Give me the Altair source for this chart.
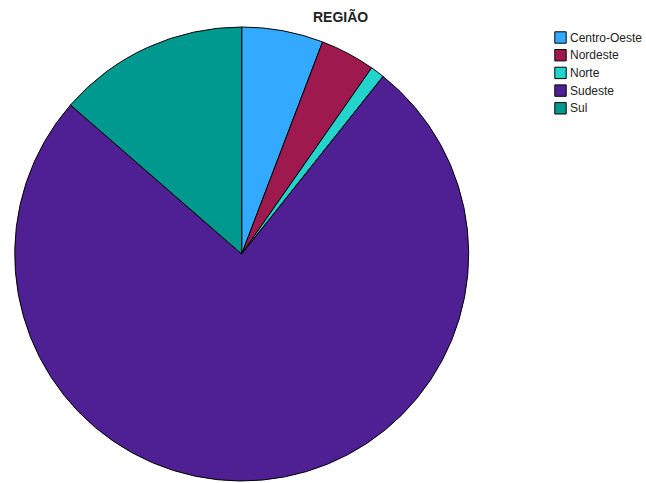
import altair as alt
import pandas as pd

regions = ["Centro-Oeste", "Nordeste", "Norte", "Sudeste", "Sul"]
shares = [5.8, 3.9, 1.0, 75.7, 13.6]
colors = ["#33AAFF", "#9E1A4E", "#22D4CC", "#4F2093", "#00998F"]

df = pd.DataFrame({"regiao": regions, "valor": shares})

chart = (
    alt.Chart(df)
    .mark_arc(radius=227, stroke="black", strokeWidth=1)
    .encode(
        theta=alt.Theta("valor:Q", stack=True),
        color=alt.Color(
            "regiao:N",
            scale=alt.Scale(domain=regions, range=colors),
            legend=alt.Legend(
                title=None,
                orient="none",
                legendX=554,
                legendY=31,
                symbolType="square",
                symbolSize=130,
                symbolStrokeColor="black",
                symbolStrokeWidth=1,
                labelFont="Liberation Sans",
                labelFontSize=12,
                labelColor="#222222",
                labelOffset=3,
                rowPadding=0.7,
            ),
        ),
        order=alt.Order("regiao:N"),
        x=alt.value(241.7),
        y=alt.value(254),
    )
    .properties(
        width=646,
        height=483,
        autosize=alt.AutoSizeParams(type="none"),
        padding=0,
        title=alt.TitleParams(
            "REGIÃO",
            font="Liberation Sans",
            fontSize=14,
            fontWeight="bold",
            color="#222222",
            anchor="start",
            frame="bounds",
            dx=313,
            offset=-25,
        ),
    )
    .configure_view(stroke=None)
)

chart.save("out.html", embed_options={"renderer": "svg", "actions": False})
